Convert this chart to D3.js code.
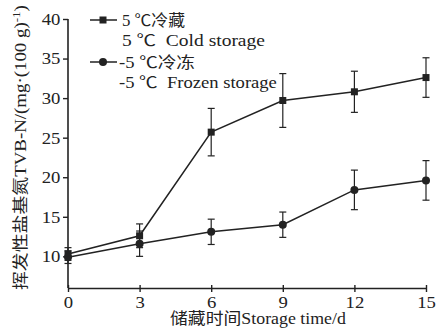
<!DOCTYPE html>
<html><head><meta charset="utf-8">
<script src="https://cdn.jsdelivr.net/npm/d3@7"></script>
<style>body{margin:0;background:#fff}text{font-family:"Liberation Serif","Noto Sans CJK SC",serif;fill:#222}</style>
</head><body><svg id="c" width="439" height="329"></svg>
<script>
const days = [0, 3, 6, 9, 12, 15];
const coldMean = [10.3, 12.6, 25.7, 29.7, 30.8, 32.6];
const coldErr  = [0.8, 1.5, 3.0, 3.4, 2.6, 2.5];
const frozenMean = [9.9, 11.6, 13.1, 14.0, 18.4, 19.6];
const frozenErr  = [0.8, 1.6, 1.6, 1.6, 2.5, 2.5];
const yTicks = [10, 15, 20, 25, 30, 35, 40];
const xTicks = [0, 3, 6, 9, 12, 15];
const legendLabels = [["5 ℃冷藏", "5 ℃  Cold storage"], ["-5 ℃冷冻", "-5 ℃  Frozen storage"]];

const svg = d3.select("#c");
const col = "#222";
const x = d3.scaleLinear().domain([0, 15]).range([68, 426]);
const y = d3.scaleLinear().domain([6, 40]).range([288, 19]);

// fit a text (anchored start at local origin) to a target length
function place(t, tx, ty, len, rot) {
  const w = t.node().getBBox().width;
  const s = len / w;
  t.attr("transform", `translate(${tx},${ty}) rotate(${rot || 0}) scale(${s},1)`);
}

// axes
const gx = svg.append("g").attr("transform", "translate(0,288)")
  .call(d3.axisBottom(x).tickValues(xTicks).tickSize(4).tickSizeOuter(0).tickPadding(4));
gx.selectAll(".tick line").attr("y1", -3);
const gy = svg.append("g").attr("transform", "translate(68,0)")
  .call(d3.axisLeft(y).tickValues(yTicks).tickSize(5).tickSizeOuter(0).tickPadding(2));
[gx, gy].forEach(g => {
  g.select(".domain").attr("stroke", col).attr("stroke-width", 1.6);
  g.selectAll(".tick line").attr("stroke", col).attr("stroke-width", 1.4);
  g.selectAll(".tick text").style("font-size", "17px").attr("fill", col).attr("transform", "scale(1.1,1)");
});
gy.select(".domain").attr("d", "M0," + y(40) + "V288");

function series(mean, err, shape) {
  const g = svg.append("g");
  const line = d3.line().x((d, i) => x(days[i])).y(d => y(d));
  g.append("path").attr("d", line(mean)).attr("fill", "none").attr("stroke", col).attr("stroke-width", 1.5);
  mean.forEach((m, i) => {
    const cx = x(days[i]);
    g.append("line").attr("x1", cx).attr("x2", cx).attr("y1", y(m - err[i])).attr("y2", y(m + err[i]))
      .attr("stroke", col).attr("stroke-width", 1.2);
    [m - err[i], m + err[i]].forEach(v => g.append("line").attr("x1", cx - 3.5).attr("x2", cx + 3.5)
      .attr("y1", y(v)).attr("y2", y(v)).attr("stroke", col).attr("stroke-width", 1.2));
    if (shape === "square") g.append("rect").attr("x", cx - 3.5).attr("y", y(m) - 3.5).attr("width", 7).attr("height", 7).attr("fill", col);
    else g.append("circle").attr("cx", cx).attr("cy", y(m)).attr("r", 4).attr("fill", col);
  });
}
series(coldMean, coldErr, "square");
series(frozenMean, frozenErr, "circle");

// legend
const lg = svg.append("g");
const legLens = [[63, 143], [76, 158]];
[[20, "square"], [62, "circle"]].forEach(([ly, shape], k) => {
  lg.append("line").attr("x1", 90).attr("x2", 117).attr("y1", ly).attr("y2", ly).attr("stroke", col).attr("stroke-width", 1.5);
  if (shape === "square") lg.append("rect").attr("x", 99.5).attr("y", ly - 3.5).attr("width", 7).attr("height", 7).attr("fill", col);
  else lg.append("circle").attr("cx", 103).attr("cy", ly).attr("r", 4).attr("fill", col);
  const t1 = lg.append("text").style("font-size", "16px").text(legendLabels[k][0]);
  place(t1, k ? 119 : 122, ly + 6, legLens[k][0]);
  const t2 = lg.append("text").style("font-size", "16px").attr("xml:space", "preserve").text(legendLabels[k][1]);
  place(t2, k ? 119 : 122, ly + 26, legLens[k][1]);
});

// axis titles
const xt = svg.append("text").style("font-size", "16px").text("储藏时间Storage time/d");
place(xt, 170, 324, 176);
const yt = svg.append("text").style("font-size", "16px");
yt.append("tspan").text("挥发性盐基氮TVB-N/(mg·(100 g)");
yt.append("tspan").attr("dy", -6).style("font-size", "11px").text("-1");
yt.append("tspan").attr("dy", 6).text(")");
place(yt, 26, 290, 285, -90);
</script></body></html>
